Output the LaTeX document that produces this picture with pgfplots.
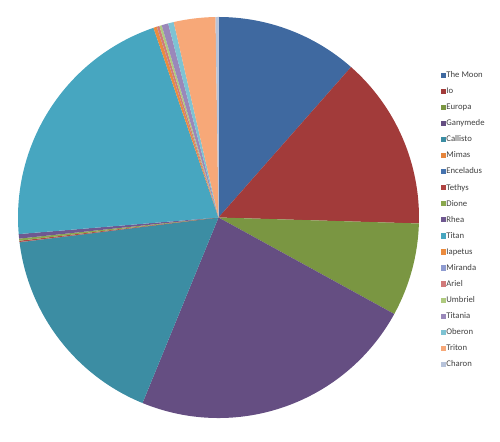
\documentclass[border=0pt]{standalone}
\usepackage{pgfplots}
\usepackage{pgfplotstable}
\pgfplotsset{compat=1.18}
\usepackage{fontspec}
\setmainfont{Carlito}

% slice colours, in table order
\definecolor{c0}{HTML}{3F69A0}
\definecolor{c1}{HTML}{A23B3A}
\definecolor{c2}{HTML}{7A9642}
\definecolor{c3}{HTML}{654E82}
\definecolor{c4}{HTML}{3C8DA3}
\definecolor{c5}{HTML}{E6853C}
\definecolor{c6}{HTML}{4573AE}
\definecolor{c7}{HTML}{B04442}
\definecolor{c8}{HTML}{8AA84E}
\definecolor{c9}{HTML}{6F5890}
\definecolor{c10}{HTML}{47A6C0}
\definecolor{c11}{HTML}{EB8B3E}
\definecolor{c12}{HTML}{8E9BD0}
\definecolor{c13}{HTML}{D17A7A}
\definecolor{c14}{HTML}{AFCA7F}
\definecolor{c15}{HTML}{9A88BA}
\definecolor{c16}{HTML}{7EC3D3}
\definecolor{c17}{HTML}{F7A878}
\definecolor{c18}{HTML}{B7C3DA}
\definecolor{legtext}{HTML}{404040}

% mass, 10^20 kg
\pgfplotstableread[col sep=comma]{
moon,mass
The Moon,734.2
Io,893.2
Europa,480.0
Ganymede,1481.9
Callisto,1075.9
Mimas,0.375
Enceladus,1.08
Tethys,6.17
Dione,10.95
Rhea,23.1
Titan,1345.2
Iapetus,18.06
Miranda,0.66
Ariel,12.9
Umbriel,12.2
Titania,34.2
Oberon,28.8
Triton,214.0
Charon,15.2
}\moons

\gdef\total{0}
\foreach \i in {0,...,18} {%
  \pgfplotstablegetelem{\i}{mass}\of\moons
  \pgfmathsetmacro\tmp{\total+\pgfplotsretval}%
  \xdef\total{\tmp}%
}

\begin{document}
\begin{tikzpicture}
\begin{axis}[
  x=1pt, y=1pt,
  xmin=0, xmax=500, ymin=0, ymax=433,
  hide axis, clip=false,
  legend image code/.code={\path[#1] (0pt,-2.6pt) rectangle (5.2pt,2.6pt);},
  legend style={at={(axis cs:440.5,362.5)}, anchor=north west, draw=none, fill=none,
    font=\fontsize{8.7}{8.7}\selectfont, text=legtext, inner sep=0pt,
    nodes={text height=6.5pt, text depth=2pt, inner sep=0.5pt}, row sep=6.55pt},
  legend cell align=left,
]
\path (axis cs:0,0) rectangle (axis cs:500,433);
\pgfplotsextra{
  \gdef\acc{0}
  \foreach \i in {0,...,18} {
    \pgfplotstablegetelem{\i}{mass}\of\moons
    \let\mval\pgfplotsretval
    \pgfmathsetmacro\aA{90-360*(\acc/\total)}
    \pgfmathsetmacro\newacc{\acc+\mval}
    \xdef\acc{\newacc}
    \pgfmathsetmacro\aB{90-360*(\acc/\total)}
    \fill[c\i] (axis cs:218.5,215.5) -- ++(\aA:200.5pt)
      arc[start angle=\aA, end angle=\aB, radius=200.5pt] -- cycle;
  }
}
\addlegendimage{fill=c0,draw=none}\addlegendentry{The Moon}
\addlegendimage{fill=c1,draw=none}\addlegendentry{Io}
\addlegendimage{fill=c2,draw=none}\addlegendentry{Europa}
\addlegendimage{fill=c3,draw=none}\addlegendentry{Ganymede}
\addlegendimage{fill=c4,draw=none}\addlegendentry{Callisto}
\addlegendimage{fill=c5,draw=none}\addlegendentry{Mimas}
\addlegendimage{fill=c6,draw=none}\addlegendentry{Enceladus}
\addlegendimage{fill=c7,draw=none}\addlegendentry{Tethys}
\addlegendimage{fill=c8,draw=none}\addlegendentry{Dione}
\addlegendimage{fill=c9,draw=none}\addlegendentry{Rhea}
\addlegendimage{fill=c10,draw=none}\addlegendentry{Titan}
\addlegendimage{fill=c11,draw=none}\addlegendentry{Iapetus}
\addlegendimage{fill=c12,draw=none}\addlegendentry{Miranda}
\addlegendimage{fill=c13,draw=none}\addlegendentry{Ariel}
\addlegendimage{fill=c14,draw=none}\addlegendentry{Umbriel}
\addlegendimage{fill=c15,draw=none}\addlegendentry{Titania}
\addlegendimage{fill=c16,draw=none}\addlegendentry{Oberon}
\addlegendimage{fill=c17,draw=none}\addlegendentry{Triton}
\addlegendimage{fill=c18,draw=none}\addlegendentry{Charon}
\end{axis}
\end{tikzpicture}
\end{document}
